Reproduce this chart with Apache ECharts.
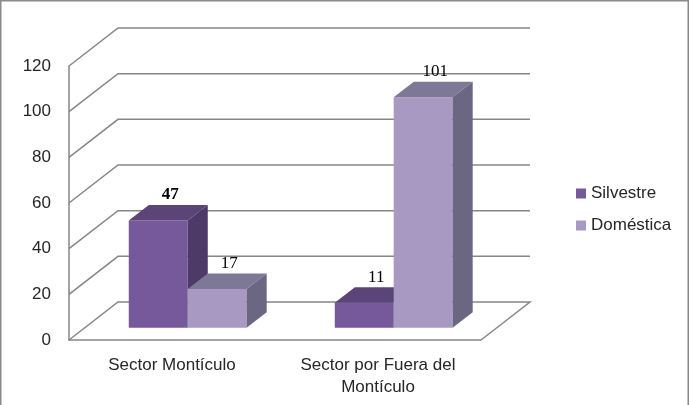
<!DOCTYPE html>
<html><head><meta charset="utf-8">
<script src="https://cdn.jsdelivr.net/npm/echarts@6/dist/echarts.min.js"></script>
<style>html,body{margin:0;padding:0;background:#fff}#c{width:690px;height:405px}</style>
</head><body><div id="c"></div>
<script>
const categories = ['Sector Montículo', 'Sector por Fuera del\nMontículo'];
const silvestre = [47, 11];
const domestica = [17, 101];
const seriesNames = ['Silvestre', 'Doméstica'];
const yTicks = [0, 20, 40, 60, 80, 100, 120];

const DEPTH_X = 49, DEPTH_Y = -38;
const BAR_FRONT = 0.32, BAR_DEPTH = 0.41, BAR_W = 0.286;
const palettes = [
  {front:'#76599a', top:'#5b4478', side:'#4d3a68'},
  {front:'#a899c2', top:'#7e7897', side:'#6b6682'}
];
const labelWeights = [['bold', 'normal'], ['normal', 'normal']];
const GRID_COLOR = '#868686';

function barRender(sIdx){
  return function(params, api){
    const cat = api.value(0), val = api.value(1);
    const base = api.coord([cat, 0]);
    const topP = api.coord([cat, val]);
    const cw = api.size([1, 0])[0];
    const bw = cw * BAR_W;
    const ox = DEPTH_X*BAR_FRONT, oy = DEPTH_Y*BAR_FRONT;
    const dx = DEPTH_X*BAR_DEPTH, dy = DEPTH_Y*BAR_DEPTH;
    const x0 = base[0] - bw + sIdx*bw + ox;
    const x1 = x0 + bw;
    const yb = base[1] + oy, yt = topP[1] + oy;
    const p = palettes[sIdx];
    return {type:'group', children:[
      {type:'polygon', shape:{points:[[x0,yt],[x1,yt],[x1,yb],[x0,yb]]}, style:{fill:p.front}},
      {type:'polygon', shape:{points:[[x0,yt],[x1,yt],[x1+dx,yt+dy],[x0+dx,yt+dy]]}, style:{fill:p.top}},
      {type:'polygon', shape:{points:[[x1,yt],[x1+dx,yt+dy],[x1+dx,yb+dy],[x1,yb]]}, style:{fill:p.side}},
      {type:'text', x: x0 + bw/2 + dx*0.6, y: yt + dy - 10,
       style:{text:String(val), fill:'#000', font: labelWeights[sIdx][cat] + ' 17px "Liberation Serif"', align:'center', verticalAlign:'middle'}}
    ]};
  };
}

function wallRender(params, api){
  const v = api.value(1);
  const cs = params.coordSys;
  const y = api.coord([0, v])[1];
  const xl = cs.x, xr = cs.x + cs.width;
  const pts = [[xl, y],[xl+DEPTH_X, y+DEPTH_Y],[xr+DEPTH_X, y+DEPTH_Y]];
  if (v === 0) pts.push([xr, y]);
  return {type:'polyline', shape:{points: pts}, style:{stroke:GRID_COLOR, lineWidth:1.5, fill:null}};
}

const chart = echarts.init(document.getElementById('c'), null, {renderer:'canvas'});
chart.setOption({
  animation:false,
  backgroundColor:'#fff',
  graphic:[{type:'rect', shape:{x:0.75, y:0.75, width:687.5, height:420}, style:{fill:null, stroke:'#8a8a8a', lineWidth:1.5}, z:100}],
  legend:{
    data:seriesNames, orient:'vertical', left:571, top:180, icon:'rect',
    itemWidth:10, itemHeight:10, itemGap:15,
    textStyle:{fontSize:17, fontFamily:'Liberation Sans', color:'#262626'}
  },
  grid:{left:69, right:209, top:66, bottom:65},
  xAxis:{
    type:'category', data:categories,
    axisLine:{show:true, lineStyle:{color:GRID_COLOR, width:1.5}},
    axisTick:{show:false},
    axisLabel:{margin:14, lineHeight:22, fontSize:17, fontFamily:'Liberation Sans', color:'#262626', interval:0}
  },
  yAxis:{
    type:'value', min:0, max:120, interval:20,
    axisLine:{show:true, lineStyle:{color:GRID_COLOR, width:1.5}},
    axisTick:{show:false},
    splitLine:{show:false},
    axisLabel:{margin:18, fontSize:17, fontFamily:'Liberation Sans', color:'#262626'}
  },
  series:[
    {type:'custom', name:'wall', clip:false, z:1, silent:true,
     data: yTicks.map(v => [0, v]), renderItem: wallRender},
    {type:'custom', name:seriesNames[0], clip:false, z:2, itemStyle:{color:palettes[0].front},
     data: silvestre.map((v,i) => [i, v]), renderItem: barRender(0)},
    {type:'custom', name:seriesNames[1], clip:false, z:3, itemStyle:{color:palettes[1].front},
     data: domestica.map((v,i) => [i, v]), renderItem: barRender(1)}
  ]
});
</script></body></html>
